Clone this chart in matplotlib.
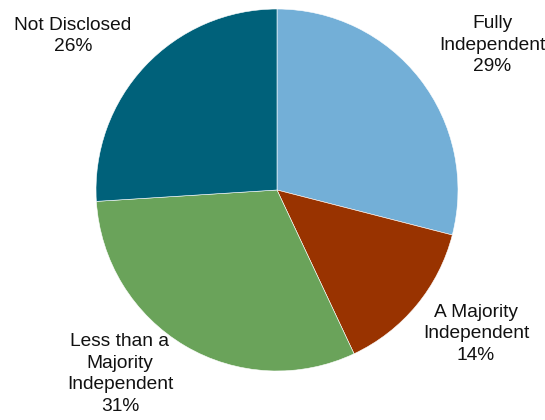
import matplotlib
matplotlib.use("Agg")
import matplotlib.pyplot as plt

categories = ["Fully\nIndependent", "A Majority\nIndependent",
              "Less than a\nMajority\nIndependent", "Not Disclosed"]
shares = [29, 14, 31, 26]
colors = ["#73AFD7", "#993300", "#6AA35A", "#00617A"]

# label anchor positions (pixels from top-left)
label_xy = [(492, 45), (476, 334), (120, 374), (73, 36)]

W, H = 545, 420
fig = plt.figure(figsize=(W / 100, H / 100), dpi=100)
ax = fig.add_axes([0, 0, 1, 1])

ax.pie(shares, colors=colors, startangle=90, counterclock=False,
       center=(277, H - 190), radius=181, frame=True,
       wedgeprops=dict(linewidth=0.4, edgecolor="white"))
ax.set_xlim(0, W)
ax.set_ylim(0, H)
ax.axis("off")

for cat, val, (x, y) in zip(categories, shares, label_xy):
    ax.text(x, H - y, f"{cat}\n{val}%", ha="center", va="center",
            fontsize=13.8, family="Liberation Sans", color="#111111",
            linespacing=1.38)

fig.savefig("out.png", dpi=100)
